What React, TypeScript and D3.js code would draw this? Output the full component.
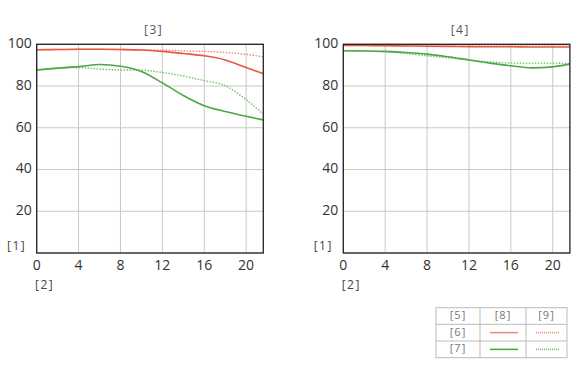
import React from "react";
import * as d3 from "d3";

const xTicks = [0, 4, 8, 12, 16, 20];
const yTicks = [0, 20, 40, 60, 80, 100];
const titles = ["[3]", "[4]"];
const yLabel = "[1]";
const xLabel = "[2]";
const legendHeader = ["[5]", "[8]", "[9]"];
const legendRows = ["[6]", "[7]"];

const xs = [0, 2, 4, 6, 8, 10, 12, 14, 16, 18, 20, 21.6];
// left chart
const leftRedSolid = [97.4, 97.5, 97.6, 97.6, 97.5, 97.3, 96.6, 95.6, 94.5, 92.5, 88.9, 86];
const leftRedDot = [97.4, 97.5, 97.6, 97.6, 97.5, 97.4, 97.2, 96.9, 96.6, 96.1, 95.2, 94];
const leftGreenSolid = [87.7, 88.6, 89.3, 90.3, 89.5, 87.0, 81.5, 75.5, 70.6, 67.8, 65.5, 63.8];
const leftGreenDot = [87.7, 88.4, 88.9, 88.1, 87.7, 87.6, 86.5, 84.8, 82.6, 80.2, 73.5, 66.7];
// right chart
const rightRedSolid = [99.5, 99.4, 99.3, 99.2, 99.1, 99.0, 98.9, 98.8, 98.8, 98.7, 98.7, 98.7];
const rightRedDot = [99.9, 99.9, 99.9, 99.8, 99.8, 99.8, 99.7, 99.7, 99.6, 99.6, 99.6, 99.6];
const rightGreenSolid = [96.9, 96.8, 96.6, 96.1, 95.3, 94.0, 92.5, 91.0, 89.7, 88.7, 89.2, 90.5];
const rightGreenDot = [96.9, 96.7, 96.4, 95.6, 94.5, 93.5, 92.5, 91.6, 91.0, 91.0, 91.0, 90.7];

const RED = "#e8573e";
const GREEN = "#4aa845";
const RED_L = "#ec8a78";
const GREEN_L = "#6fbf69";

const FONT = "'Open Sans', sans-serif";

function Panel({ left, title, series }: { left: number; title: string; series: number[][] }) {
  const width = 226.6;
  const x = d3.scaleLinear().domain([0, 21.64]).range([left, left + width]);
  const y = d3.scaleLinear().domain([0, 100]).range([253, 44.3]);
  const line = d3
    .line<number>()
    .x((_, i) => x(xs[i]))
    .y((d) => y(d))
    .curve(d3.curveMonotoneX);
  const styles = [
    { c: RED, dash: undefined, w: 1.6 },
    { c: RED_L, dash: "1.5,1.5", w: 1.4 },
    { c: GREEN, dash: undefined, w: 1.6 },
    { c: GREEN_L, dash: "1.5,1.5", w: 1.4 },
  ];
  return (
    <g>
      <text x={x(0) + 117} y={31} textAnchor="middle" dominantBaseline="middle" fontSize={12} letterSpacing={1.5} fill="#555" fontFamily={FONT}>
        {title}
      </text>
      {xTicks.map((t) => (
        <line key={"gx" + t} x1={x(t)} x2={x(t)} y1={y(0)} y2={y(100)} stroke="#c8c8c8" strokeWidth={1} />
      ))}
      {yTicks.map((t) => (
        <line key={"gy" + t} x1={x(0)} x2={x(21.64)} y1={y(t)} y2={y(t)} stroke="#c8c8c8" strokeWidth={1} />
      ))}
      {[3, 1, 2, 0].map((k) => (
        <path
          key={"s" + k}
          d={line(series[k]) || ""}
          fill="none"
          stroke={styles[k].c}
          strokeWidth={styles[k].w}
          strokeDasharray={styles[k].dash}
        />
      ))}
      <rect x={x(0)} y={y(100)} width={width} height={y(0) - y(100)} fill="none" stroke="#222" strokeWidth={1.3} />
      {yTicks
        .filter((t) => t > 0)
        .map((t) => (
          <text key={"yl" + t} x={x(0) - 5} y={y(t)} textAnchor="end" dominantBaseline="middle" fontSize={14} fill="#333" fontFamily={FONT}>
            {t}
          </text>
        ))}
      {xTicks.map((t) => (
        <text key={"xl" + t} x={x(t)} y={266} textAnchor="middle" dominantBaseline="middle" fontSize={14} fill="#333" fontFamily={FONT}>
          {t}
        </text>
      ))}
      <text x={x(0) - 20} y={247} textAnchor="middle" dominantBaseline="middle" fontSize={12} letterSpacing={1.5} fill="#444" fontFamily={FONT}>
        {yLabel}
      </text>
      <text x={x(0) + 8} y={286} textAnchor="middle" dominantBaseline="middle" fontSize={12} letterSpacing={1.5} fill="#444" fontFamily={FONT}>
        {xLabel}
      </text>
    </g>
  );
}

function Legend() {
  const cols = [436, 480, 526, 567];
  const rows = [307.7, 324.3, 341, 357.7];
  const lineStyles = [
    [
      { c: RED_L, dash: undefined },
      { c: RED_L, dash: "1,1" },
    ],
    [
      { c: GREEN, dash: undefined },
      { c: GREEN_L, dash: "1,1" },
    ],
  ];
  return (
    <g fontFamily={FONT} fontSize={11} fill="#777">
      <rect x={cols[0]} y={rows[0]} width={cols[3] - cols[0]} height={rows[3] - rows[0]} fill="none" stroke="#bbb" strokeWidth={1} />
      {cols.slice(1, 3).map((c) => (
        <line key={"c" + c} x1={c} x2={c} y1={rows[0]} y2={rows[3]} stroke="#bbb" strokeWidth={1} />
      ))}
      {rows.slice(1, 3).map((r) => (
        <line key={"r" + r} x1={cols[0]} x2={cols[3]} y1={r} y2={r} stroke="#bbb" strokeWidth={1} />
      ))}
      {legendHeader.map((h, i) => (
        <text key={h} x={(cols[i] + cols[i + 1]) / 2} y={(rows[0] + rows[1]) / 2} textAnchor="middle" dominantBaseline="middle" letterSpacing={1}>
          {h}
        </text>
      ))}
      {legendRows.map((h, j) => (
        <g key={h}>
          <text x={(cols[0] + cols[1]) / 2} y={(rows[j + 1] + rows[j + 2]) / 2} textAnchor="middle" dominantBaseline="middle" letterSpacing={1}>
            {h}
          </text>
          {lineStyles[j].map((s, i) => (
            <line
              key={i}
              x1={cols[i + 1] + 10}
              x2={cols[i + 2] - 8}
              y1={(rows[j + 1] + rows[j + 2]) / 2}
              y2={(rows[j + 1] + rows[j + 2]) / 2}
              stroke={s.c}
              strokeWidth={1.6}
              strokeDasharray={s.dash}
            />
          ))}
        </g>
      ))}
    </g>
  );
}

export default function App() {
  return (
    <svg width={573} height={382} style={{ position: "absolute", left: 0, top: 0, background: "#fff" }}>
      <Panel left={36.7} title={titles[0]} series={[leftRedSolid, leftRedDot, leftGreenSolid, leftGreenDot]} />
      <Panel left={343.3} title={titles[1]} series={[rightRedSolid, rightRedDot, rightGreenSolid, rightGreenDot]} />
      <Legend />
    </svg>
  );
}
